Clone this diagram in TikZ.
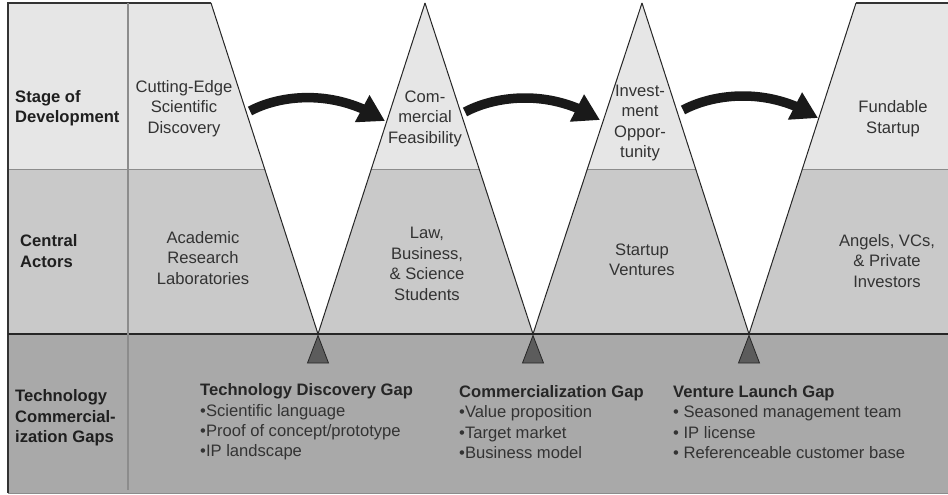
\documentclass[tikz,border=0pt]{standalone}
\usepackage{fontspec}
\setmainfont{Liberation Sans}
\usetikzlibrary{arrows.meta,bending}
\definecolor{rowA}{HTML}{E6E6E6}
\definecolor{rowB}{HTML}{C9C9C9}
\definecolor{rowC}{HTML}{A9A9A9}
\definecolor{txt}{HTML}{333333}
\definecolor{gapmark}{HTML}{5C5C5C}
\definecolor{divider}{HTML}{8C8C8C}
\begin{document}
\begin{tikzpicture}[x=1pt,y=-1pt,
  lbl/.style={font=\fontsize{16.6}{20.5}\selectfont\bfseries, text=black!88, inner sep=0pt, anchor=west, align=left},
  body/.style={font=\fontsize{16.6}{20.5}\selectfont, text=txt, inner sep=0pt, align=center},
  gaptext/.style={font=\fontsize{16.6}{20.3}\selectfont, text=txt, inner sep=0pt, anchor=west, align=left},
  flow/.style={line width=9.5pt, -{Triangle[length=26pt,width=29pt,flex]}, black!90},
  gapmarker/.style={fill=gapmark, draw=black!85, line width=0.8pt, line join=miter},
  vside/.style={draw=black!85, line width=1pt}]

\fill[white] (0,0) rectangle (948,495);
\useasboundingbox (0,0) rectangle (948,495);

% row backgrounds
\fill[rowA] (8,3) rectangle (948,169);
\fill[rowB] (8,169) rectangle (948,334);
\fill[rowC] (8,334) rectangle (948,493);
\draw[divider, line width=0.8pt] (8,169) -- (948,169);

% white V cutouts
\foreach \a/\b/\c in {211/425/318, 425/642/533, 642/856/749} {
  \fill[white] (\a,2) -- (\b,2) -- (\c,334) -- cycle;
  \draw[vside] (\a,3) -- (\c,334) -- (\b,3);
}

% borders
\draw[black!80, line width=1.2pt] (211,3) -- (8,3) -- (8,493);
\draw[black!80, line width=1.2pt] (856,3) -- (948,3);
\draw[black!85, line width=2pt] (8,334) -- (948,334);
\draw[divider, line width=1.3pt] (128,3) -- (128,490);
\draw[black!45, line width=1pt] (8,493) -- (948,493);

% gap markers
\foreach \c in {318,533,749} {
  \filldraw[gapmarker] (\c,335.5) -- (\c-10.5,363) -- (\c+10.5,363) -- cycle;
}

% row labels
\node[lbl] (stage) at (15,108.4) {Stage of\\Development};
\node[lbl] (actors) at (20,251.1) {Central\\Actors};
\node[lbl] (gaps) at (15,417.9) {Technology\\Commercial-\\ization Gaps};

% stages
\node[body] (s1) at (184,108.7) {Cutting-Edge\\Scientific\\Discovery};
\node[body] (s2) at (425,118.7) {Com-\\mercial\\Feasibility};
\node[body] (s3) at (640,123.2) {Invest-\\ment\\Oppor-\\tunity};
\node[body] (s4) at (893,118.7) {Fundable\\Startup};

% actors
\node[body] (c1) at (203,258) {Academic\\Research\\Laboratories};
\node[body] (c2) at (427,264) {Law,\\Business,\\\& Science\\Students};
\node[body] (c3) at (642,259.6) {Startup\\Ventures};
\node[body] (c4) at (887,261) {Angels, VCs,\\\& Private\\Investors};

% gaps
\node[gaptext] (g1) at (200,422) {{\bfseries\color{black!85}Technology Discovery Gap}\\•Scientific language\\•Proof of concept/prototype\\•IP landscape};
\node[gaptext] (g2) at (459,422) {{\bfseries\color{black!85}Commercialization Gap}\\•Value proposition\\•Target market\\•Business model};
\node[gaptext] (g3) at (673,422) {{\bfseries\color{black!85}Venture Launch Gap}\\• Seasoned management team\\• IP license\\• Referenceable customer base};

% arrows
\coordinate (a1s) at (250,111);
\coordinate (a1e) at (385,121);
\coordinate (a2s) at (465,112);
\coordinate (a2e) at (600,120);
\coordinate (a3s) at (683,110);
\coordinate (a3e) at (818,118);
\draw[flow] (a1s) .. controls (280,95) and (335,88) .. (a1e);
\draw[flow] (a2s) .. controls (495,96) and (550,88) .. (a2e);
\draw[flow] (a3s) .. controls (713,94) and (768,86) .. (a3e);
\end{tikzpicture}
\end{document}
